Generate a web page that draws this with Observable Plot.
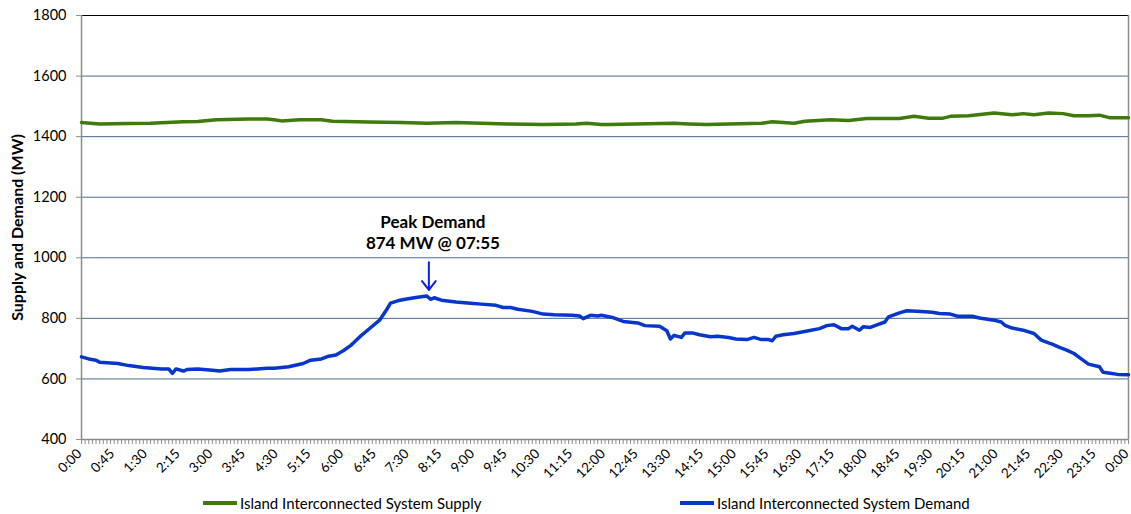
<!DOCTYPE html>
<html>
<head>
<meta charset="utf-8">
<script src="https://cdn.jsdelivr.net/npm/d3@7"></script>
<script src="https://cdn.jsdelivr.net/npm/@observablehq/plot@0.6"></script>
<style>
  html, body { margin: 0; padding: 0; background: #fff; }
  #wrap { position: relative; width: 1131px; height: 514px; font-family: Lato, "Open Sans", sans-serif; }
  #wrap svg { display: block; }
  [aria-label="y-axis label"] text, [aria-label="y-axis label"] { font-weight: bold; font-size: 16px; }
  .legend { position: absolute; top: 494px; height: 18px; display: flex; align-items: center; font-size: 15px; color: #000; white-space: nowrap; }
  .legend .sw { display: inline-block; width: 34px; height: 4px; margin-right: 3px; }
</style>
</head>
<body>
<div id="wrap"></div>
<script>
// ---- data (minutes after midnight, MW) ----
const demandMinutes = [0,10,20,25,50,65,85,110,120,125,130,140,145,160,180,190,205,230,255,265,285,305,315,330,340,350,360,370,375,385,395,410,420,425,435,445,460,475,480,485,495,515,535,550,570,580,590,600,620,635,650,675,685,690,700,710,715,730,745,765,775,795,805,810,815,825,830,840,850,865,875,890,900,915,925,935,945,950,955,965,980,1000,1015,1025,1035,1045,1055,1060,1070,1075,1085,1095,1105,1110,1125,1135,1155,1170,1180,1195,1205,1225,1235,1255,1265,1270,1280,1295,1310,1320,1330,1335,1345,1355,1365,1375,1385,1400,1405,1415,1425,1440];
const demandMW = [673,666,662,655,651,644,638,633,633,618,633,626,631,633,629,626,631,631,635,635,640,651,662,666,675,679,693,710,721,744,764,794,830,850,858,863,869,874,863,868,860,854,850,847,843,836,836,830,823,814,812,810,808,799,810,808,810,803,790,785,776,774,759,732,744,737,752,752,746,739,741,737,732,730,737,730,730,726,741,746,750,759,766,776,779,766,766,774,761,772,770,779,788,805,818,825,823,820,816,814,807,807,801,794,788,777,768,761,750,728,719,715,704,695,684,666,649,640,622,619,615,614];

const supplyMinutes = [0,25,65,95,140,160,185,230,255,265,275,300,330,345,395,440,475,515,585,635,680,695,715,725,815,835,860,935,950,980,995,1030,1055,1080,1125,1145,1165,1185,1195,1220,1255,1280,1295,1310,1330,1350,1365,1385,1400,1415,1440];
const supplyMW = [1447,1442,1443,1444,1449,1450,1456,1458,1458,1456,1452,1456,1456,1451,1448,1447,1444,1447,1442,1440,1442,1444,1440,1440,1444,1442,1440,1444,1449,1444,1451,1456,1453,1460,1460,1467,1461,1461,1467,1469,1478,1472,1476,1472,1478,1476,1469,1469,1471,1462,1462];

const xTickLabels = ["0:00","0:45","1:30","2:15","3:00","3:45","4:30","5:15","6:00","6:45","7:30","8:15","9:00","9:45","10:30","11:15","12:00","12:45","13:30","14:15","15:00","15:45","16:30","17:15","18:00","18:45","19:30","20:15","21:00","21:45","22:30","23:15","0:00"];
const yTicks = [400,600,800,1000,1200,1400,1600,1800];
const gridValues = [600,800,1000,1200,1400,1600];

const seriesNames = ["Island Interconnected System Supply", "Island Interconnected System Demand"];
const seriesColors = ["#3f7b0c", "#0636cc"];

const peak = { minute: 475, mw: 874, labelTop: "Peak Demand", labelBottom: "874 MW @ 07:55", arrowFrom: 985 };

// ---- build tables ----
const demand = demandMinutes.map((m, i) => ({ m, v: demandMW[i] }));
const supply = supplyMinutes.map((m, i) => ({ m, v: supplyMW[i] }));
const labelTicks = xTickLabels.map((_, i) => i * 45);
const minorTicks = d3.range(0, 1441, 5);

const chart = Plot.plot({
  width: 1131,
  height: 490,
  marginTop: 15,
  marginLeft: 81,
  marginRight: 3,
  marginBottom: 51,
  style: { fontFamily: "Lato, 'Open Sans', sans-serif", fontSize: "14px", color: "#000", background: "#fff", overflow: "visible" },
  x: { domain: [0, 1440] },
  y: { domain: [400, 1800] },
  marks: [
    Plot.gridY(gridValues, { stroke: "#4a6b98", strokeOpacity: 1, strokeWidth: 1 }),
    Plot.ruleY([1800], { stroke: "#000", strokeWidth: 1 }),
    Plot.ruleX([1440], { stroke: "#8c8c8c", strokeWidth: 1.5 }),
    Plot.axisY({
      ticks: yTicks, tickSize: 5, tickPadding: 10, stroke: "#8c8c8c", fill: "#000", fontSize: 14.5,
      tickFormat: (d) => String(d),
      label: "Supply and Demand (MW)", labelAnchor: "center", labelArrow: "none", labelOffset: 70
    }),
    Plot.axisX({ ticks: minorTicks, tickSize: 5, tickFormat: () => "", stroke: "#8c8c8c", label: null }),
    Plot.axisX({
      ticks: labelTicks, tickSize: 0, tickPadding: 12, tickRotate: -45, fontSize: 13.5, fill: "#000", dx: -2,
      tickFormat: (d) => xTickLabels[Math.round(d / 45)], label: null
    }),
    Plot.ruleY([400], { stroke: "#8c8c8c", strokeWidth: 1.5 }),
    Plot.ruleX([0], { stroke: "#8c8c8c", strokeWidth: 1.5 }),
    Plot.line(supply, { x: "m", y: "v", stroke: seriesColors[0], strokeWidth: 3.5 }),
    Plot.line(demand, { x: "m", y: "v", stroke: seriesColors[1], strokeWidth: 3.5 }),
    Plot.arrow([peak], {
      x1: "minute", x2: "minute", y1: "arrowFrom", y2: "mw",
      stroke: "#0a1ee6", strokeWidth: 2, headLength: 13, headAngle: 75, insetEnd: 6, dx: 2
    }),
    Plot.text([peak], {
      x: "minute", y: "mw", text: (d) => d.labelTop + "\n" + d.labelBottom,
      lineAnchor: "bottom", dy: -47, dx: 6, fontWeight: "bold", fontSize: 17, fill: "#000", lineHeight: 1.25
    })
  ]
});

const wrap = document.getElementById("wrap");
wrap.appendChild(chart);

const legendPos = [203, 680];
seriesNames.forEach((name, i) => {
  const item = document.createElement("div");
  item.className = "legend";
  item.style.left = legendPos[i] + "px";
  const sw = document.createElement("span");
  sw.className = "sw";
  sw.style.background = seriesColors[i];
  item.appendChild(sw);
  item.appendChild(document.createTextNode(name));
  wrap.appendChild(item);
});
</script>
</body>
</html>
